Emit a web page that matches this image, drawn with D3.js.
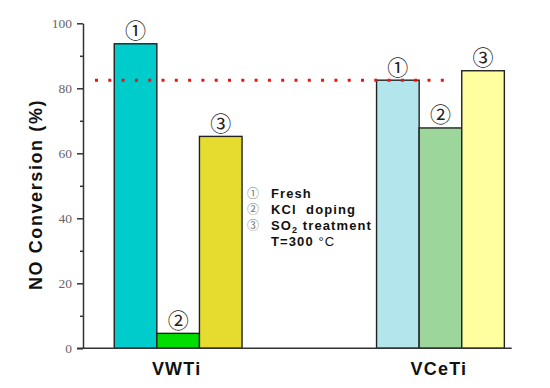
<!DOCTYPE html>
<html>
<head>
<meta charset="utf-8">
<script src="https://cdn.jsdelivr.net/npm/d3@7"></script>
<style>
  body { margin: 0; background: #fff; }
  svg { display: block; }
  .ytick text { font-family: 'Liberation Serif', 'DejaVu Serif', serif; }
</style>
</head>
<body>
<svg></svg>
<script>
// data
const categories = ["VWTi", "VCeTi"];
const treatments = ["Fresh", "KCl doping", "SO2 treatment"];
const marks = ["\u2460", "\u2461", "\u2462"];
const vwtiValues = [93.7, 4.6, 65.2];
const vcetiValues = [82.5, 67.8, 85.4];
const freshLevel = 82.5; // red dotted reference
const yTicks = [0, 20, 40, 60, 80, 100];
const yMinorTicks = [10, 30, 50, 70, 90];

const seriesValues = [vwtiValues, vcetiValues];
const barColors = [
  ["#00cccc", "#00dd00", "#e6dc30"],
  ["#b3e5ec", "#9dd69a", "#ffffa0"]
];

const w = 550, h = 388;
const svg = d3.select("svg").attr("width", w).attr("height", h);

// scales
const yScale = d3.scaleLinear().domain([0, 100]).range([348.3, 23.3]);
const xScale = d3.scaleBand().domain(categories).range([47, 571.6]).padding(0);
const groupW = 127.8;
const xSub = d3.scaleBand().domain(d3.range(treatments.length)).range([0, groupW]);

const axisColor = "#333";

// y axis with major and minor ticks
const yAxisG = svg.append("g")
  .attr("class", "ytick")
  .attr("transform", "translate(83,0)")
  .call(d3.axisLeft(yScale).tickValues(yTicks).tickSize(6).tickSizeOuter(0).tickPadding(5));
yAxisG.attr("font-family", null);
yAxisG.select(".domain").attr("stroke", axisColor).attr("stroke-width", 1.5);
yAxisG.selectAll(".tick line").attr("stroke", axisColor).attr("stroke-width", 1.5);
yAxisG.selectAll(".tick text")
  .attr("font-size", 13.5)
  .attr("fill", "#666");

const minorG = svg.append("g")
  .attr("transform", "translate(83,0)")
  .call(d3.axisLeft(yScale).tickValues(yMinorTicks).tickSize(3).tickSizeOuter(0).tickFormat(""));
minorG.select(".domain").remove();
minorG.selectAll(".tick line").attr("stroke", axisColor).attr("stroke-width", 1.5);

// y title
svg.append("text")
  .attr("transform", "translate(42," + 194.5 + ") rotate(-90)")
  .attr("text-anchor", "middle")
  .attr("font-family", "'Liberation Sans', Arial, sans-serif")
  .attr("font-weight", "bold")
  .attr("font-size", 18)
  .attr("letter-spacing", 1.6)
  .attr("fill", "#111")
  .text("NO Conversion (%)");

// bars
const groups = svg.selectAll("g.group")
  .data(categories)
  .enter()
  .append("g")
  .attr("class", "group")
  .attr("transform", (d) => "translate(" + (xScale(d) + xScale.bandwidth() / 2 - groupW / 2) + ",0)");

groups.each(function (cat, ci) {
  const g = d3.select(this);
  const vals = seriesValues[ci];
  g.selectAll("rect")
    .data(vals)
    .enter()
    .append("rect")
    .attr("x", (d, i) => xSub(i))
    .attr("y", (d) => yScale(d))
    .attr("width", xSub.bandwidth())
    .attr("height", (d) => yScale(0) - yScale(d))
    .attr("fill", (d, i) => barColors[ci][i])
    .attr("stroke", "#222")
    .attr("stroke-width", 1.4);

  g.selectAll("text.mark")
    .data(vals)
    .enter()
    .append("text")
    .attr("class", "mark")
    .attr("x", (d, i) => xSub(i) + xSub.bandwidth() / 2)
    .attr("y", (d) => yScale(d) - 13)
    .attr("dy", "0.35em")
    .attr("text-anchor", "middle")
    .attr("font-family", "'Noto Sans CJK JP', 'DejaVu Sans', sans-serif")
    .attr("font-size", 21)
    .attr("fill", "#222")
    .text((d, i) => marks[i]);
});

// x axis line
svg.append("line")
  .attr("x1", 77).attr("x2", 511.7)
  .attr("y1", yScale(0)).attr("y2", yScale(0))
  .attr("stroke", axisColor).attr("stroke-width", 1.5);

// category labels
svg.selectAll("text.cat")
  .data(categories)
  .enter()
  .append("text")
  .attr("class", "cat")
  .attr("x", (d) => xScale(d) + xScale.bandwidth() / 2 - 1.5)
  .attr("y", 375)
  .attr("text-anchor", "middle")
  .attr("font-family", "'Liberation Sans', Arial, sans-serif")
  .attr("font-weight", "bold")
  .attr("font-size", 18)
  .attr("letter-spacing", 1.2)
  .attr("fill", "#111")
  .text((d) => d);

// red dotted reference line
svg.append("line")
  .attr("x1", 95).attr("x2", 445)
  .attr("y1", yScale(freshLevel)).attr("y2", yScale(freshLevel))
  .attr("stroke", "#ee1111")
  .attr("stroke-width", 3)
  .attr("stroke-dasharray", "3,10.3");

// legend
const legend = svg.append("g").attr("transform", "translate(247,198)");
const legendRows = legend.selectAll("g")
  .data(treatments)
  .enter()
  .append("g")
  .attr("transform", (d, i) => "translate(0," + i * 16 + ")");
legendRows.append("text")
  .attr("x", 0)
  .attr("font-family", "'Noto Sans CJK JP', 'DejaVu Sans', sans-serif")
  .attr("font-size", 12)
  .attr("fill", "#777")
  .text((d, i) => marks[i]);
const lt = legendRows.append("text")
  .attr("x", 24)
  .attr("font-family", "'Liberation Sans', Arial, sans-serif")
  .attr("font-weight", "bold")
  .attr("font-size", 13)
  .attr("letter-spacing", 1.1)
  .attr("fill", "#111")
  .attr("xml:space", "preserve");
lt.each(function (d) {
  const t = d3.select(this);
  if (d === "SO2 treatment") {
    t.append("tspan").text("SO");
    t.append("tspan").attr("font-size", 9).attr("dy", 3).text("2");
    t.append("tspan").attr("dy", -3).text(" treatment");
  } else if (d === "KCl doping") {
    t.text("KCl  doping");
  } else {
    t.text(d);
  }
});
const tempText = legend.append("text")
  .attr("x", 24)
  .attr("y", 48)
  .attr("font-family", "'Liberation Sans', Arial, sans-serif")
  .attr("font-size", 13)
  .attr("letter-spacing", 1.1)
  .attr("fill", "#111");
tempText.append("tspan").attr("font-weight", "bold").text("T=300 ");
tempText.append("tspan").text("\u00b0C");
</script>
</body>
</html>
